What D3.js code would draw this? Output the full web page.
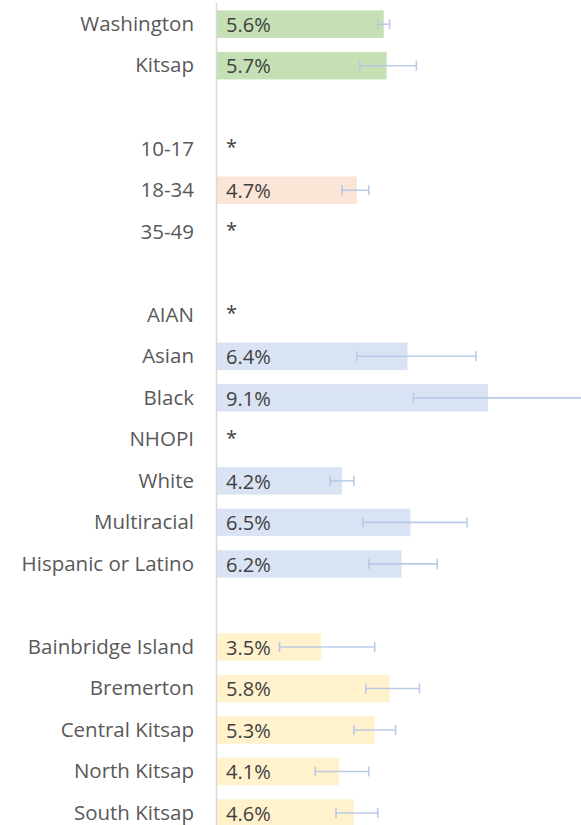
<!DOCTYPE html>
<html><head><meta charset="utf-8">
<script src="https://cdn.jsdelivr.net/npm/d3@7"></script>
<style>body{margin:0;background:#fff}svg{display:block}</style>
</head><body><svg id="c" width="581" height="825"></svg>
<script>
const categories = ["Washington","Kitsap","","10-17","18-34","35-49"," ","AIAN","Asian","Black","NHOPI","White","Multiracial","Hispanic or Latino","  ","Bainbridge Island","Bremerton","Central Kitsap","North Kitsap","South Kitsap"];
const groups = ["state","state","gap","age","age","age","gap","race","race","race","race","race","race","race","gap","region","region","region","region","region"];
const values = [5.6,5.7,null,null,4.7,null,null,null,6.4,9.1,null,4.2,6.5,6.2,null,3.5,5.8,5.3,4.1,4.6];
const lower  = [5.4,4.8,null,null,4.2,null,null,null,4.7,6.6,null,3.8,4.9,5.1,null,2.1,5.0,4.6,3.3,4.0];
const upper  = [5.8,6.7,null,null,5.1,null,null,null,8.7,12.6,null,4.6,8.4,7.4,null,5.3,6.8,6.0,5.1,5.4];
const suppressed = ["10-17","35-49","AIAN","NHOPI"];
const groupColors = {state:"#C5E0B4", age:"#FBE5D6", race:"#DAE3F3", region:"#FFF2CC"};

const svg = d3.select("#c");
const x0 = 217;
const x = d3.scaleLinear().domain([0, 12.23]).range([x0, 581]);
const y = d3.scaleBand().domain(categories).range([3.4, 833.8]).paddingInner(0.338).paddingOuter(0.169);
const font = "'Open Sans', sans-serif";

// bars
categories.forEach((c,i)=>{
  if (values[i] != null) {
    svg.append("rect").attr("x", x(0)).attr("y", y(c)).attr("width", x(values[i]) - x(0))
      .attr("height", y.bandwidth()).attr("fill", groupColors[groups[i]]);
  }
});
// error bars
const eb = svg.append("g").attr("stroke","#B4C7E7").attr("stroke-width",1.6).attr("stroke-opacity",0.9);
categories.forEach((c,i)=>{
  if (lower[i] == null) return;
  const cy = y(c) + y.bandwidth()/2;
  eb.append("line").attr("x1", x(lower[i])).attr("x2", x(upper[i])).attr("y1", cy).attr("y2", cy);
  [lower[i], upper[i]].forEach(v=>{
    eb.append("line").attr("x1", x(v)).attr("x2", x(v)).attr("y1", cy-5).attr("y2", cy+5);
  });
});
// axis line
svg.append("line").attr("x1", x0-0.5).attr("x2", x0-0.5).attr("y1", 3).attr("y2", 825)
  .attr("stroke","#D9D9D9").attr("stroke-width",1.6);

// labels
categories.forEach((c,i)=>{
  if (groups[i]==="gap") return;
  const cy = y(c) + y.bandwidth()/2;
  svg.append("text").attr("x", 194).attr("y", cy + 6.8).attr("text-anchor","end")
    .attr("font-family", font).attr("font-size", 20.5).attr("fill","#595959").text(c);
  let lab = null;
  if (values[i] != null) lab = d3.format(".1f")(values[i]) + "%";
  else if (suppressed.includes(c)) lab = "*";
  if (lab) svg.append("text").attr("x", x(0) + 9).attr("y", cy + (lab==="*"?5.5:7.8))
    .attr("font-family", font).attr("font-size", 20).attr("fill","#404040").text(lab);
});
</script></body></html>
